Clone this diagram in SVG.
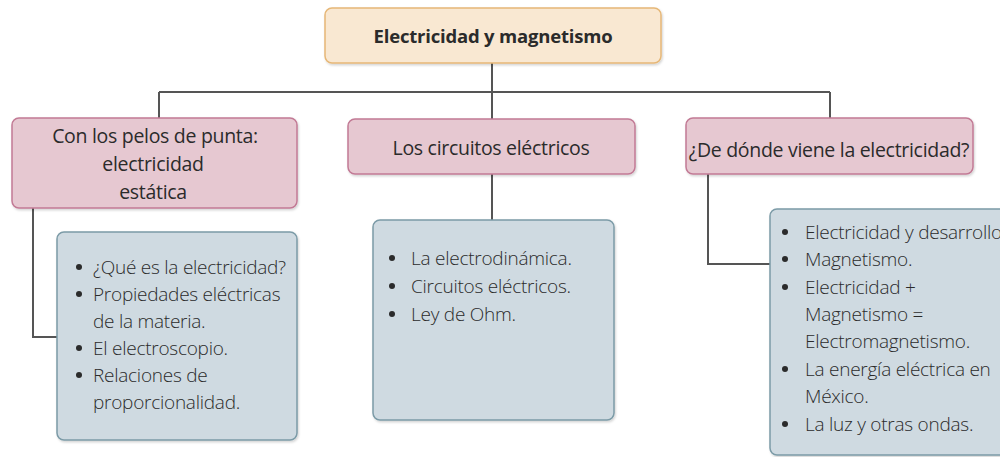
<svg xmlns="http://www.w3.org/2000/svg" width="1000" height="457" viewBox="0 0 1000 457">
<defs>
<filter id="sh" x="-5%" y="-5%" width="110%" height="115%">
<feDropShadow dx="1" dy="1.5" stdDeviation="0.8" flood-color="#000" flood-opacity="0.18"/>
</filter>
</defs>
<style>
.top{fill:#f9e8d2;stroke:#e6b777;stroke-width:1.5}
.pink{fill:#e6c8d1;stroke:#c27a95;stroke-width:1.5}
.blue{fill:#cfdae1;stroke:#7c9ba7;stroke-width:1.5}
.conn{fill:none;stroke:#555;stroke-width:2}
text{font-family:"Open Sans","Liberation Sans",sans-serif;fill:#2b2b2b}
.title{font-size:18.5px;font-weight:700;text-anchor:middle;letter-spacing:-0.2px}
.head{font-size:19.5px;text-anchor:middle;letter-spacing:-0.3px}
.item{font-size:19px;font-weight:300;letter-spacing:-0.25px}
.bul{fill:#2b2b2b}
</style>
<g id="connectors">
<path class="conn" d="M492 63V92M159 92H830M159 92V118M492 92V119M830 92V118M492 174V220M33 208V337H57M708 174V264H770"/>
</g>
<g id="root">
<rect class="top" x="325" y="8" width="336" height="55" rx="7" filter="url(#sh)"/>
<text class="title" x="493" y="43">Electricidad y magnetismo</text>
</g>
<g id="n1">
<rect class="pink" x="12" y="118" width="285" height="90" rx="7" filter="url(#sh)"/>
<text class="head" x="155" y="143">Con los pelos de punta:</text>
<text class="head" x="153" y="171">electricidad</text>
<text class="head" x="153" y="199">estática</text>
</g>
<g id="n2">
<rect class="pink" x="348" y="119" width="287" height="55" rx="7" filter="url(#sh)"/>
<text class="head" x="491" y="155">Los circuitos eléctricos</text>
</g>
<g id="n3">
<rect class="pink" x="686" y="118" width="287" height="56" rx="7" filter="url(#sh)"/>
<text class="head" x="829" y="157">¿De dónde viene la electricidad?</text>
</g>
<g id="b1">
<rect class="blue" x="57" y="232" width="240" height="208" rx="7" filter="url(#sh)"/>
<g class="bul"><circle cx="79" cy="267" r="3"/><circle cx="79" cy="294" r="3"/><circle cx="79" cy="348" r="3"/><circle cx="79" cy="375" r="3"/></g>
<text class="item" x="93" y="274">¿Qué es la electricidad?</text>
<text class="item" x="93" y="301">Propiedades eléctricas</text>
<text class="item" x="93" y="328">de la materia.</text>
<text class="item" x="93" y="355">El electroscopio.</text>
<text class="item" x="93" y="382">Relaciones de</text>
<text class="item" x="93" y="409">proporcionalidad.</text>
</g>
<g id="b2">
<rect class="blue" x="373" y="220" width="241" height="200" rx="7" filter="url(#sh)"/>
<g class="bul"><circle cx="392" cy="258" r="3"/><circle cx="392" cy="286" r="3"/><circle cx="392" cy="314" r="3"/></g>
<text class="item" x="411" y="265">La electrodinámica.</text>
<text class="item" x="411" y="293">Circuitos eléctricos.</text>
<text class="item" x="411" y="321">Ley de Ohm.</text>
</g>
<g id="b3">
<rect class="blue" x="770" y="209" width="245" height="246" rx="7" filter="url(#sh)"/>
<g class="bul"><circle cx="785" cy="232" r="3"/><circle cx="785" cy="259" r="3"/><circle cx="785" cy="287" r="3"/><circle cx="785" cy="369" r="3"/><circle cx="785" cy="424" r="3"/></g>
<text class="item" x="805" y="239">Electricidad y desarrollo</text>
<text class="item" x="805" y="266">Magnetismo.</text>
<text class="item" x="805" y="294">Electricidad +</text>
<text class="item" x="805" y="321">Magnetismo =</text>
<text class="item" x="805" y="348">Electromagnetismo.</text>
<text class="item" x="805" y="376">La energía eléctrica en</text>
<text class="item" x="805" y="403">México.</text>
<text class="item" x="805" y="431">La luz y otras ondas.</text>
</g>
</svg>
